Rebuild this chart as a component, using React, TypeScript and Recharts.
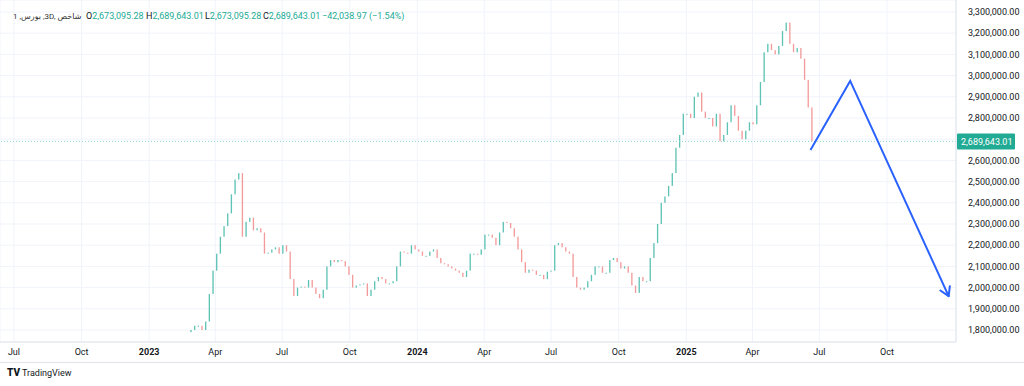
import { ComposedChart, Bar, Line, XAxis, YAxis, CartesianGrid, ReferenceLine } from 'recharts'

// one bar every 5 days, first bar 241 days after 1 Jul 2022
const startDay = 241
const barStep = 5
const firstOpen = 1790000

const closes = [
  1800000, 1820000, 1820000, 1800000, 1840000, 1970000, 2080000, 2160000, 2240000, 2290000,
  2350000, 2440000, 2510000, 2540000, 2240000, 2310000, 2330000, 2270000, 2280000, 2260000,
  2160000, 2165000, 2180000, 2190000, 2160000, 2200000, 2170000, 2040000, 1960000, 2000000,
  2005000, 2000000, 2036000, 2000000, 1970000, 1950000, 1990000, 2100000, 2130000, 2120000,
  2130000, 2125000, 2100000, 2060000, 2000000, 2010000, 2015000, 2020000, 1960000, 1990000,
  2030000, 2050000, 2040000, 2020000, 2020000, 2030000, 2100000, 2170000, 2165000, 2160000,
  2200000, 2180000, 2170000, 2150000, 2150000, 2170000, 2180000, 2140000, 2115000, 2110000,
  2100000, 2090000, 2080000, 2070000, 2050000, 2080000, 2160000, 2160000, 2155000, 2180000,
  2250000, 2250000, 2235000, 2200000, 2260000, 2310000, 2305000, 2280000, 2240000, 2180000,
  2120000, 2070000, 2085000, 2080000, 2060000, 2060000, 2040000, 2075000, 2080000, 2200000,
  2210000, 2190000, 2170000, 2160000, 2050000, 2000000, 1990000, 2000000, 2030000, 2060000,
  2100000, 2100000, 2070000, 2070000, 2130000, 2140000, 2120000, 2090000, 2100000, 2070000,
  2010000, 1975000, 2050000, 2030000, 2030000, 2140000, 2210000, 2300000, 2400000, 2430000,
  2480000, 2540000, 2660000, 2720000, 2820000, 2820000, 2800000, 2900000, 2920000, 2830000,
  2800000, 2800000, 2760000, 2820000, 2690000, 2720000, 2780000, 2860000, 2810000, 2740000,
  2700000, 2740000, 2780000, 2770000, 2860000, 2970000, 3110000, 3150000, 3120000, 3100000,
  3140000, 3210000, 3250000, 3150000, 3110000, 3130000, 3080000, 2980000, 2850000, 2689643.01,
]

const priceTicks = [
  1800000, 1900000, 2000000, 2100000, 2200000, 2300000, 2400000, 2500000,
  2600000, 2700000, 2800000, 2900000, 3000000, 3100000, 3200000, 3300000,
]
const tickMonths = [
  '2022-07', '2022-10', '2023-01', '2023-04', '2023-07', '2023-10', '2024-01',
  '2024-04', '2024-07', '2024-10', '2025-01', '2025-04', '2025-07', '2025-10',
]
const monthNames = ['Jan', 'Feb', 'Mar', 'Apr', 'May', 'Jun', 'Jul', 'Aug', 'Sep', 'Oct', 'Nov', 'Dec']

// hand-drawn projection arrow
const arrowDays = [1084, 1138, 1272]
const arrowValues = [2649000, 2975000, 1960000]

// title pieces in visual order (left to right)
const titleParts = ['1 ,', 'بورس', ' ,3D, ', 'شاخص']
const header = {
  open: '2,673,095.28',
  high: '2,689,643.01',
  low: '2,673,095.28',
  close: '2,689,643.01',
  change: '−42,038.97 (−1.54%)',
}

const UP = '#5ec2b4'
const DOWN = '#f39a9a'
const TEAL = '#22ab94'
const FONT = 'Roboto, "DejaVu Sans", sans-serif'

const dayOf = (ym: string) => {
  const [y, m] = ym.split('-').map(Number)
  return Math.round((Date.UTC(y, m - 1, 1) - Date.UTC(2022, 6, 1)) / 86400000)
}
const tickDays = tickMonths.map(dayOf)
const tickLabel: Record<number, string> = {}
tickMonths.forEach((ym, i) => {
  const [y, m] = ym.split('-').map(Number)
  tickLabel[tickDays[i]] = m === 1 ? String(y) : monthNames[m - 1]
})

const lastClose = closes[closes.length - 1]

const candles = closes.map((c, i) => {
  const o = i === 0 ? firstOpen : closes[i - 1]
  return { day: startDay + i * barStep, open: o, close: c, body: [Math.min(o, c), Math.max(o, c)] }
})
const arrow = arrowDays.map((d, i) => ({ day: d, value: arrowValues[i] }))

const fmt = (v: number) => v.toLocaleString('en-US', { minimumFractionDigits: 2, maximumFractionDigits: 2 })
// the price tag hides the nearest grid label
const yLabel = (v: number) => (Math.abs(v - lastClose) < 40000 ? '' : fmt(v))

function Candle(props: any) {
  const { x, y, width, height, payload } = props
  if (x == null || y == null) return null
  const up = payload.close >= payload.open
  const top = height < 0 ? y + height : y
  return <rect x={x} y={top} width={width} height={Math.max(Math.abs(height), 1)} fill={up ? UP : DOWN} />
}

function MonthTick(props: any) {
  const { x, y, payload } = props
  const label = tickLabel[payload.value] ?? ''
  const isYear = /^\d{4}$/.test(label)
  return (
    <text x={x} y={y + 5} textAnchor="middle" fontSize={9} fontFamily={FONT} fill="#131722" fontWeight={isYear ? 700 : 400}>
      {label}
    </text>
  )
}

function ArrowHead(props: any) {
  const { cx, cy, index, points } = props
  if (index !== arrowDays.length - 1 || cx == null) return <g key={`ah${index}`} />
  const prev = points?.[index - 1]
  const ang = prev ? Math.atan2(cy - prev.y, cx - prev.x) : 1.14
  const len = 10
  const spread = 0.55
  const w1 = ang + Math.PI - spread
  const w2 = ang + Math.PI + spread
  return (
    <g key={`ah${index}`} stroke="#2962ff" strokeWidth={2} strokeLinecap="round">
      <line x1={cx} y1={cy} x2={cx + len * Math.cos(w1)} y2={cy + len * Math.sin(w1)} />
      <line x1={cx} y1={cy} x2={cx + len * Math.cos(w2)} y2={cy + len * Math.sin(w2)} />
    </g>
  )
}

function PriceTag(props: any) {
  const { viewBox } = props
  const x = viewBox.x + viewBox.width + 1
  const y = viewBox.y
  return (
    <g>
      <rect x={x} y={y - 8} width={58} height={16} rx={1} fill={TEAL} />
      <text x={x + 4} y={y + 3.5} fontSize={9} fontFamily={FONT} fill="#fff">{fmt(lastClose)}</text>
    </g>
  )
}

export default function App() {
  const span = (left: number, children: any) => (
    <span style={{ position: 'absolute', left, top: 11, whiteSpace: 'nowrap' }}>{children}</span>
  )
  return (
    <div style={{ position: 'absolute', left: 0, top: 0, width: 1024, height: 386, background: '#fff', fontFamily: FONT, overflow: 'hidden' }}>
      <ComposedChart width={1024} height={362} data={candles} margin={{ top: 0, right: 0, bottom: 0, left: 0 }}>
        <CartesianGrid stroke="#f0f3fa" />
        <XAxis
          dataKey="day"
          type="number"
          domain={[-19, 1282]}
          ticks={tickDays}
          tick={<MonthTick />}
          tickLine={false}
          axisLine={{ stroke: '#e0e3eb' }}
          height={20}
          allowDataOverflow
          interval={0}
        />
        <YAxis
          orientation="right"
          width={68}
          domain={[1743400, 3356600]}
          ticks={priceTicks}
          tickFormatter={yLabel}
          tick={{ fontSize: 9, fill: '#131722', fontFamily: FONT }}
          tickLine={false}
          tickMargin={6}
          axisLine={{ stroke: '#e0e3eb' }}
          allowDataOverflow
          interval={0}
        />
        <ReferenceLine y={lastClose} stroke="#8fd8cb" strokeWidth={1} strokeDasharray="1 2" label={<PriceTag />} />
        <Bar dataKey="body" barSize={2} shape={<Candle />} isAnimationActive={false} />
        <Line
          data={arrow}
          dataKey="value"
          stroke="#2962ff"
          strokeWidth={2}
          dot={<ArrowHead />}
          activeDot={false}
          isAnimationActive={false}
          type="linear"
        />
      </ComposedChart>
      <div style={{ position: 'absolute', left: 0, top: 362, width: 1024, height: 1, background: '#e0e3eb' }} />
      <div style={{ fontSize: 9, color: '#131722' }}>
        <span style={{ position: 'absolute', left: 13, top: 11.5, whiteSpace: 'pre', display: 'flex', direction: 'ltr', fontSize: 8, color: '#333' }}>
          {titleParts.map((p, i) => (
            <span key={i} style={{ unicodeBidi: 'isolate', whiteSpace: 'pre' }}>{p}</span>
          ))}
        </span>
        {span(86, <>O<span style={{ color: TEAL }}>{header.open}</span></>)}
        {span(146, <>H<span style={{ color: TEAL }}>{header.high}</span></>)}
        {span(205, <>L<span style={{ color: TEAL }}>{header.low}</span></>)}
        {span(263, <>C<span style={{ color: TEAL }}>{header.close}</span></>)}
        {span(322, <span style={{ color: TEAL }}>{header.change}</span>)}
      </div>
      <div style={{ position: 'absolute', left: 7, top: 367, fontSize: 9, color: '#131722', whiteSpace: 'nowrap' }}>
        <span style={{ fontWeight: 900, fontSize: 10, marginRight: 2 }}>TV</span>TradingView
      </div>
    </div>
  )
}
